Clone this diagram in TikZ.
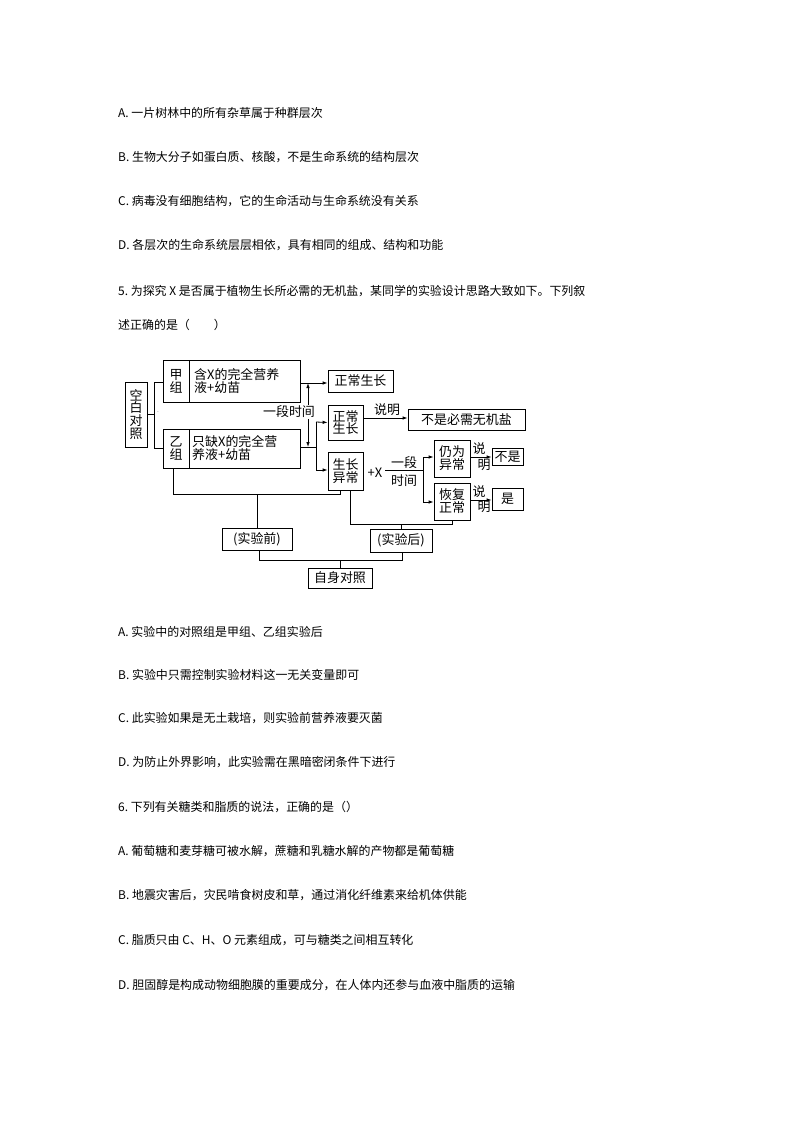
\documentclass[tikz,border=0pt]{standalone}
\usepackage{fontspec}
\setmainfont{Noto Sans CJK SC}
\usetikzlibrary{arrows.meta}
\begin{document}
\begin{tikzpicture}[x=1bp,y=-1bp,
  line/.style={line width=0.8bp},
  arr/.style={line width=0.8bp,-{Latex[length=5bp,width=3.5bp]}},
  bx/.style={draw,line width=0.8bp,inner sep=0},
  body/.style={anchor=west,inner sep=0,font=\fontsize{12}{14}\selectfont},
  dt/.style={inner sep=0,font=\fontsize{13}{15}\selectfont,align=center}]
\useasboundingbox[fill=white] (0,0) rectangle (794,1123);
\node[body] (t1) at (118,113) {A.\ 一片树林中的所有杂草属于种群层次};
\node[body] (t2) at (118,157) {B.\ 生物大分子如蛋白质、核酸，不是生命系统的结构层次};
\node[body] (t3) at (118,201) {C.\ 病毒没有细胞结构，它的生命活动与生命系统没有关系};
\node[body] (t4) at (118,245) {D.\ 各层次的生命系统层层相依，具有相同的组成、结构和功能};
\node[body] (t5) at (118,291) {5.\ 为探究 X 是否属于植物生长所必需的无机盐，某同学的实验设计思路大致如下。下列叙};
\node[body] (t6) at (118,325) {述正确的是（\quad\quad）};
\node[body] (t7) at (118,632) {A.\ 实验中的对照组是甲组、乙组实验后};
\node[body] (t8) at (118,675) {B.\ 实验中只需控制实验材料这一无关变量即可};
\node[body] (t9) at (118,718) {C.\ 此实验如果是无土栽培，则实验前营养液要灭菌};
\node[body] (t10) at (118,762) {D.\ 为防止外界影响，此实验需在黑暗密闭条件下进行};
\node[body] (t11) at (118,807) {6.\ 下列有关糖类和脂质的说法，正确的是（）};
\node[body] (t12) at (118,851) {A.\ 葡萄糖和麦芽糖可被水解，蔗糖和乳糖水解的产物都是葡萄糖};
\node[body] (t13) at (118,895) {B.\ 地震灾害后，灾民啃食树皮和草，通过消化纤维素来给机体供能};
\node[body] (t14) at (118,940) {C.\ 脂质只由 C、H、O 元素组成，可与糖类之间相互转化};
\node[body] (t15) at (118,985) {D.\ 胆固醇是构成动物细胞膜的重要成分，在人体内还参与血液中脂质的运输};

% boxes
\draw[line] (125,382) rectangle (147,447);
\node[dt] (kb) at (136,414.5) {空\\[-2bp]白\\[-2bp]对\\[-2bp]照};
\draw[line] (163,360) rectangle (300,402); \draw[line] (189,360)--(189,402);
\node[dt] (jz) at (176,381) {甲\\[-2bp]组};
\node[dt,align=left,anchor=west] (jt) at (194,381) {含X的完全营养\\[-2bp]液+幼苗};
\draw[line] (163,429) rectangle (300,468); \draw[line] (189,429)--(189,468);
\node[dt] (yz) at (176,448.5) {乙\\[-2bp]组};
\node[dt,align=left,anchor=west] (yt) at (192,448.5) {只缺X的完全营\\[-2bp]养液+幼苗};
\node[bx,minimum width=65bp,minimum height=22bp,dt] (zc1) at (360.5,381) {正常生长};
\node[bx,minimum width=35bp,minimum height=35bp,dt] (zc2) at (345.5,422.5) {正常\\[-2bp]生长};
\node[bx,minimum width=35bp,minimum height=38bp,dt] (yc) at (345.5,471) {生长\\[-2bp]异常};
\node[bx,minimum width=117bp,minimum height=21bp,dt] (bs) at (466.5,419.5) {不是必需无机盐};
\node[bx,minimum width=36bp,minimum height=37bp,dt] (rw) at (452,458.5) {仍为\\[-2bp]异常};
\node[bx,minimum width=36bp,minimum height=37bp,dt] (hf) at (452,501.5) {恢复\\[-2bp]正常};
\node[bx,minimum width=31bp,minimum height=17bp,dt] (bb) at (507.5,456.5) {不是};
\node[bx,minimum width=31bp,minimum height=22bp,dt] (sh) at (507.5,499) {是};
\node[bx,minimum width=70bp,minimum height=22bp,dt] (sq) at (257,539) {(实验前)};
\node[bx,minimum width=62bp,minimum height=23bp,dt] (sh2) at (401,540.5) {(实验后)};
\node[bx,minimum width=64bp,minimum height=20bp,dt] (zs) at (340,578) {自身对照};
\coordinate (kr) at (147,414.5);
% left bracket
\draw[line] (kr)--(154,414.5) (163,382)--(154,382)--(154,448)--(163,448);
\node[inner sep=0] (dot) at (158,412) {\tiny.};
% right of jia
\draw[arr] (300,383)--(zc1.west|-0,383);
\draw[line,{Latex[length=5bp,width=3.5bp]}-{Latex[length=5bp,width=3.5bp]}] (308,383)--(308,447);
\node[dt,fill=white,inner sep=0.5bp] (ydsj) at (289,412) {一段时间};
\draw[line] (300,447)--(316,447);
\draw[line] (316,422)--(316,470);
\draw[arr] (316,422)--(zc2.west);
\draw[arr] (316,470)--(yc.west|-0,470);
\draw[arr] (zc2.east|-0,418)--(bs.west|-0,418);
\node[dt] (sm1) at (387,410) {说明};
\node[dt] (px) at (375,473) {+X};
\draw[line] (385,470)--(423,470);
\node[dt] (yd) at (404,463) {一段};
\node[dt] (sj) at (404,481) {时间};
\draw[line] (423,457)--(423,502);
\draw[arr] (423,457)--(rw.west|-0,457);
\draw[arr] (423,502)--(hf.west|-0,502);
\draw[arr] (rw.east|-0,457)--(bb.west|-0,457);
\draw[arr] (hf.east|-0,500)--(sh.west|-0,500);
\node[dt] (sm2a) at (479,449) {说};
\node[dt] (sm2b) at (484,465) {明};
\node[dt] (sm3a) at (479,492) {说};
\node[dt] (sm3b) at (484,507) {明};
% bottom brackets
\draw[line] (173,468)--(173,494)--(340,494)--(340,490);
\draw[line] (257,494)--(sq.north);
\draw[line] (350,490)--(350,524)--(452,524)--(452,520);
\draw[line] (401,524)--(sh2.north);
\draw[line] (259,550)--(259,560)--(402,560)--(402,552);
\draw[line] (340,560)--(zs.north);
\end{tikzpicture}
\end{document}
